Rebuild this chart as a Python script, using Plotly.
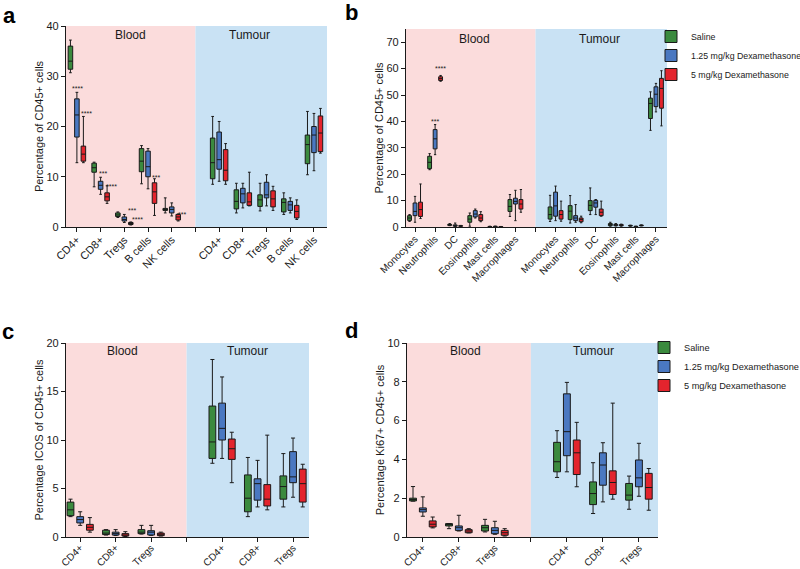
import plotly.graph_objects as go

# ---------------- data (lower whisker, Q1, median, Q3, upper whisker) ----------------
series_names = ["Saline", "1.25 mg/kg Dexamethasone", "5 mg/kg Dexamethasone"]

# Panel a: Percentage of CD45+ cells (lymphoid)
a_labels = ["CD4+", "CD8+", "Tregs", "B cells", "NK cells", "",
            "CD4+", "CD8+", "Tregs", "B cells", "NK cells"]
a_pos = [0, 1, 2, 3, 4, 6, 7, 8, 9, 10]
a_saline = [[30.7, 31.4, 33.0, 36.0, 37.2], [8.0, 10.9, 11.8, 12.7, 12.9], [1.9, 2.1, 2.4, 2.8, 3.0],
            [8.6, 11.0, 13.1, 15.6, 16.2], [2.8, 3.3, 3.5, 3.7, 5.8],
            [8.5, 9.6, 12.8, 17.7, 22.0], [2.8, 3.6, 5.1, 7.4, 8.7], [3.2, 4.1, 5.4, 6.4, 8.7],
            [2.5, 3.0, 4.9, 5.6, 6.8], [10.4, 12.6, 16.4, 18.3, 23.0]]
a_low = [[12.8, 17.9, 22.3, 25.5, 26.8], [6.5, 7.5, 8.3, 9.1, 9.9], [0.9, 1.2, 1.5, 2.0, 2.5],
         [7.6, 10.0, 12.0, 15.1, 15.6], [2.2, 2.8, 3.5, 4.0, 4.8],
         [9.1, 11.5, 13.4, 18.9, 21.0], [3.8, 4.8, 6.6, 7.7, 8.7], [4.2, 5.8, 6.4, 8.9, 10.4],
         [2.8, 3.3, 4.4, 5.1, 5.8], [11.2, 14.8, 18.3, 20.0, 22.6]]
a_high = [[12.8, 13.1, 14.5, 16.1, 22.0], [4.7, 5.2, 6.0, 6.8, 8.2], [0.4, 0.5, 0.7, 0.9, 1.0],
          [2.3, 4.7, 7.0, 8.8, 9.6], [1.2, 1.4, 2.0, 2.5, 2.6],
          [8.5, 9.2, 11.3, 15.4, 16.6], [4.2, 4.3, 5.0, 6.8, 10.9], [3.3, 4.0, 5.6, 7.2, 8.1],
          [1.5, 1.8, 3.1, 4.3, 5.4], [14.7, 15.0, 18.7, 22.1, 23.6]]

# Panel b: Percentage of CD45+ cells (myeloid)
b_labels = ["Monocytes", "Neutrophils", "DC", "Eosinophils", "Mast cells", "Macrophages", "",
            "Monocytes", "Neutrophils", "DC", "Eosinophils", "Mast cells", "Macrophages"]
b_pos = [0, 1, 2, 3, 4, 5, 7, 8, 9, 10, 11, 12]
b_saline = [[2.1, 2.5, 3.4, 4.3, 4.7], [21.7, 22.1, 24.5, 26.8, 27.8], [0.5, 0.6, 0.9, 1.0, 1.3],
            [0.3, 1.8, 3.0, 4.3, 5.3], [0.05, 0.1, 0.15, 0.2, 0.3], [4.0, 5.9, 7.8, 10.4, 12.3],
            [2.1, 3.0, 4.7, 7.6, 12.0], [1.5, 2.8, 6.0, 8.1, 11.9], [4.7, 6.2, 8.2, 10.0, 14.8],
            [0.3, 0.5, 0.9, 1.3, 1.8], [0.3, 0.4, 0.5, 0.6, 0.7], [36.6, 41.1, 46.8, 48.8, 51.2]]
b_low = [[1.8, 4.3, 5.9, 9.1, 11.6], [27.4, 29.6, 33.4, 36.9, 38.8], [0.1, 0.3, 0.5, 0.8, 1.5],
         [3.4, 3.8, 4.9, 6.2, 6.8], [0.1, 0.15, 0.2, 0.25, 0.35], [2.4, 8.7, 9.7, 10.9, 13.9],
         [2.4, 4.1, 8.0, 13.2, 15.5], [1.8, 2.4, 3.4, 4.3, 8.5], [4.7, 7.5, 9.1, 10.1, 10.4],
         [0.4, 0.5, 0.8, 1.0, 1.3], [0.1, 0.15, 0.2, 0.25, 0.3], [43.6, 45.6, 50.3, 53.1, 54.4]]
b_high = [[3.2, 4.0, 6.6, 9.4, 16.3], [55.2, 55.5, 56.2, 56.9, 57.4], [0.2, 0.3, 0.4, 0.5, 0.6],
          [2.0, 2.4, 3.4, 4.7, 5.8], [0.0, 0.05, 0.1, 0.15, 0.2], [5.6, 6.8, 8.7, 10.4, 14.2],
          [2.2, 3.0, 4.7, 6.2, 9.8], [1.6, 2.0, 2.8, 3.4, 4.1], [4.1, 4.3, 5.6, 6.8, 9.8],
          [0.3, 0.5, 0.7, 0.9, 1.1], [0.4, 0.5, 0.6, 0.7, 0.8], [38.3, 45.0, 52.5, 56.3, 59.2]]

# Panel c: Percentage ICOS of CD45+ cells
c_labels = ["CD4+", "CD8+", "Tregs", "", "CD4+", "CD8+", "Tregs"]
c_pos = [0, 1, 2, 4, 5, 6]
c_saline = [[2.1, 2.2, 2.8, 3.6, 3.9], [0.2, 0.25, 0.4, 0.7, 0.76], [0.3, 0.35, 0.5, 0.76, 1.2],
            [7.6, 8.1, 9.8, 13.5, 18.3], [2.1, 2.6, 4.0, 6.4, 8.2], [3.1, 3.9, 5.2, 6.3, 8.6]]
c_low = [[1.2, 1.45, 1.8, 2.1, 2.6], [0.15, 0.2, 0.35, 0.5, 0.76], [0.17, 0.2, 0.5, 0.65, 1.2],
         [8.1, 10.0, 11.2, 13.8, 16.5], [3.1, 3.8, 5.5, 6.0, 7.9], [4.1, 5.6, 6.2, 8.8, 10.2]]
c_high = [[0.5, 0.7, 1.0, 1.3, 2.0], [0.05, 0.1, 0.2, 0.35, 0.55], [0.1, 0.14, 0.28, 0.4, 0.5],
          [5.6, 8.0, 9.1, 10.1, 10.8], [2.8, 3.2, 3.9, 5.4, 10.5], [3.1, 3.6, 5.5, 7.0, 7.5]]

# Panel d: Percentage Ki67+ CD45+ cells
d_labels = ["CD4+", "CD8+", "Tregs", "", "CD4+", "CD8+", "Tregs"]
d_pos = [0, 1, 2, 4, 5, 6]
d_saline = [[1.85, 1.86, 1.93, 2.0, 2.6], [0.43, 0.57, 0.64, 0.69, 0.69], [0.26, 0.31, 0.48, 0.6, 0.91],
            [3.07, 3.36, 3.88, 4.88, 5.48], [1.21, 1.67, 2.24, 2.84, 3.83], [1.43, 1.9, 2.16, 2.76, 3.14]]
d_low = [[1.07, 1.29, 1.41, 1.5, 2.07], [0.31, 0.34, 0.48, 0.57, 1.12], [0.14, 0.17, 0.34, 0.48, 0.81],
         [3.36, 4.19, 5.43, 7.38, 7.97], [1.81, 2.67, 3.71, 4.34, 4.86], [2.1, 2.59, 3.05, 3.97, 4.83]]
d_high = [[0.47, 0.52, 0.66, 0.83, 1.03], [0.21, 0.22, 0.31, 0.38, 0.43], [0.05, 0.09, 0.22, 0.34, 0.43],
          [2.59, 3.22, 4.34, 5.0, 5.91], [1.95, 2.19, 2.81, 3.41, 6.9], [1.38, 1.95, 2.55, 3.28, 3.53]]

# significance stars: (x, y, text)
a_stars = [(0.02, 27.6, "****"), (0.40, 22.6, "****"), (1.12, 10.6, "***"), (1.45, 8.1, "****"),
           (2.32, 3.3, "***"), (2.55, 1.5, "****"), (3.33, 9.9, "***"), (4.42, 2.5, "***")]
b_stars = [(1.0, 39.8, "***"), (1.27, 59.9, "****")]

# ---------------- style ----------------
COLORS = ["#3b8a3e", "#4a78c1", "#e3242d"]
PINK = "#fbdcdc"
LBLUE = "#c9e2f4"
FONT = "Liberation Sans, Arial, sans-serif"

fig = go.Figure()

panels = [
    ("x", "y", a_pos, [a_saline, a_low, a_high], None),
    ("x2", "y2", b_pos, [b_saline, b_low, b_high], "legend"),
    ("x3", "y3", c_pos, [c_saline, c_low, c_high], None),
    ("x4", "y4", d_pos, [d_saline, d_low, d_high], "legend2"),
]

for xa, ya, pos, sets, leg in panels:
    for i, data in enumerate(sets):
        fig.add_trace(go.Box(
            x=pos,
            lowerfence=[r[0] for r in data],
            q1=[r[1] for r in data],
            median=[r[2] for r in data],
            q3=[r[3] for r in data],
            upperfence=[r[4] for r in data],
            name=series_names[i],
            fillcolor=COLORS[i],
            line=dict(color="#1a1a1a", width=1),
            whiskerwidth=0.6,
            boxpoints=False,
            xaxis=xa, yaxis=ya,
            offsetgroup=str(i), alignmentgroup=xa,
            showlegend=leg is not None,
            legend=leg if leg else "legend",
            hoverinfo="skip",
        ))

axis_common = dict(showgrid=False, zeroline=False, showline=True, linecolor="#1a1a1a", linewidth=1.3,
                   ticks="outside", ticklen=4, tickwidth=1.2, tickcolor="#1a1a1a", automargin=False,
                   tickfont=dict(family=FONT, size=11, color="#1a1a1a"))

def xaxis(domain, anchor, rng, labels, fs, standoff):
    return dict(domain=domain, anchor=anchor, range=rng, tickmode="array",
                tickvals=list(range(len(labels))), ticktext=labels, tickangle=-45,
                ticklabelstandoff=standoff,
                **{**axis_common, "tickfont": dict(family=FONT, size=fs, color="#1a1a1a")})

def yaxis(domain, anchor, rng, dtick, title):
    return dict(domain=domain, anchor=anchor, range=rng, dtick=dtick,
                title=dict(text=title, font=dict(family=FONT, size=11, color="#1a1a1a"), standoff=0),
                **axis_common)

W, H = 800, 569
def px(x): return x / W
def py(y): return 1 - y / H

a_xr = [-0.46, 10.55]
b_xr = [-0.45, 12.55]
c_xr = [-0.4, 6.45]
d_xr = [-0.44, 6.53]

fig.update_layout(
    width=W, height=H, margin=dict(l=0, r=0, t=0, b=0, autoexpand=False),
    paper_bgcolor="white", plot_bgcolor="white",
    boxmode="group", boxgap=0.18, boxgroupgap=0.3,
    font=dict(family=FONT, color="#1a1a1a"),
    xaxis=xaxis([px(66), px(327)], "y", a_xr, a_labels, 11, -3),
    yaxis=yaxis([py(227), py(26)], "x", [0, 40], 10, "Percentage of CD45+ cells"),
    xaxis2=xaxis([px(406), px(667)], "y2", b_xr, b_labels, 10, -3),
    yaxis2=yaxis([py(227), py(29)], "x2", [0, 75], 10, "Percentage of CD45+ cells"),
    xaxis3=xaxis([px(66), px(309)], "y3", c_xr, c_labels, 10, -4),
    yaxis3=yaxis([py(537), py(343)], "x3", [0, 20], 5, "Percentage ICOS of CD45+ cells"),
    xaxis4=xaxis([px(407), px(658)], "y4", d_xr, d_labels, 10, -4),
    yaxis4=yaxis([py(537), py(343)], "x4", [0, 10], 2, "Percentage Ki67+ CD45+ cells"),
    legend=dict(x=px(651), y=py(22), xanchor="left", yanchor="top", bgcolor="rgba(0,0,0,0)",
                font=dict(family=FONT, size=8.8, color="#1a1a1a"), itemwidth=30, tracegroupgap=0),
    legend2=dict(x=px(644), y=py(333), xanchor="left", yanchor="top", bgcolor="rgba(0,0,0,0)",
                 font=dict(family=FONT, size=9.2, color="#1a1a1a"), itemwidth=30, tracegroupgap=0),
)

# background regions (Blood / Tumour)
for xa, ya, rng, sep in [("x", "y", a_xr, 5), ("x2", "y2", b_xr, 6), ("x3", "y3", c_xr, 3), ("x4", "y4", d_xr, 3)]:
    yref = ya + " domain"
    fig.add_shape(type="rect", xref=xa, yref=yref, x0=rng[0], x1=sep, y0=0, y1=1,
                  fillcolor=PINK, line_width=0, layer="below")
    fig.add_shape(type="rect", xref=xa, yref=yref, x0=sep, x1=rng[1], y0=0, y1=1,
                  fillcolor=LBLUE, line_width=0, layer="below")

# region labels
for xa, ya, xb, xt, yy in [("x", "y", 2.25, 7.3, 0.955), ("x2", "y2", 2.98, 9.2, 0.948),
                           ("x3", "y3", 1.18, 4.73, 0.959), ("x4", "y4", 1.19, 4.75, 0.959)]:
    for xv, txt in [(xb, "Blood"), (xt, "Tumour")]:
        fig.add_annotation(x=xv, y=yy, xref=xa, yref=ya + " domain", text=txt, showarrow=False,
                           font=dict(family=FONT, size=12, color="#1a1a1a"), xanchor="center", yanchor="middle")

# significance stars
for xa, ya, stars in [("x", "y", a_stars), ("x2", "y2", b_stars)]:
    for xv, yv, txt in stars:
        fig.add_annotation(x=xv, y=yv, xref=xa, yref=ya, text=txt, showarrow=False,
                           font=dict(family=FONT, size=7, color="#1a1a1a"), xanchor="center", yanchor="middle")

# panel letters
for txt, x, y in [("a", 9, 15), ("b", 351, 13), ("c", 8, 331), ("d", 351, 330)]:
    fig.add_annotation(x=px(x), y=py(y), xref="paper", yref="paper", text="<b>%s</b>" % txt, showarrow=False,
                       font=dict(family=FONT, size=22, color="#000000"), xanchor="center", yanchor="middle")

fig.write_html("out.html", config={"displayModeBar": False},
               post_script="document.body.style.margin='0px';document.body.style.overflow='hidden';")
